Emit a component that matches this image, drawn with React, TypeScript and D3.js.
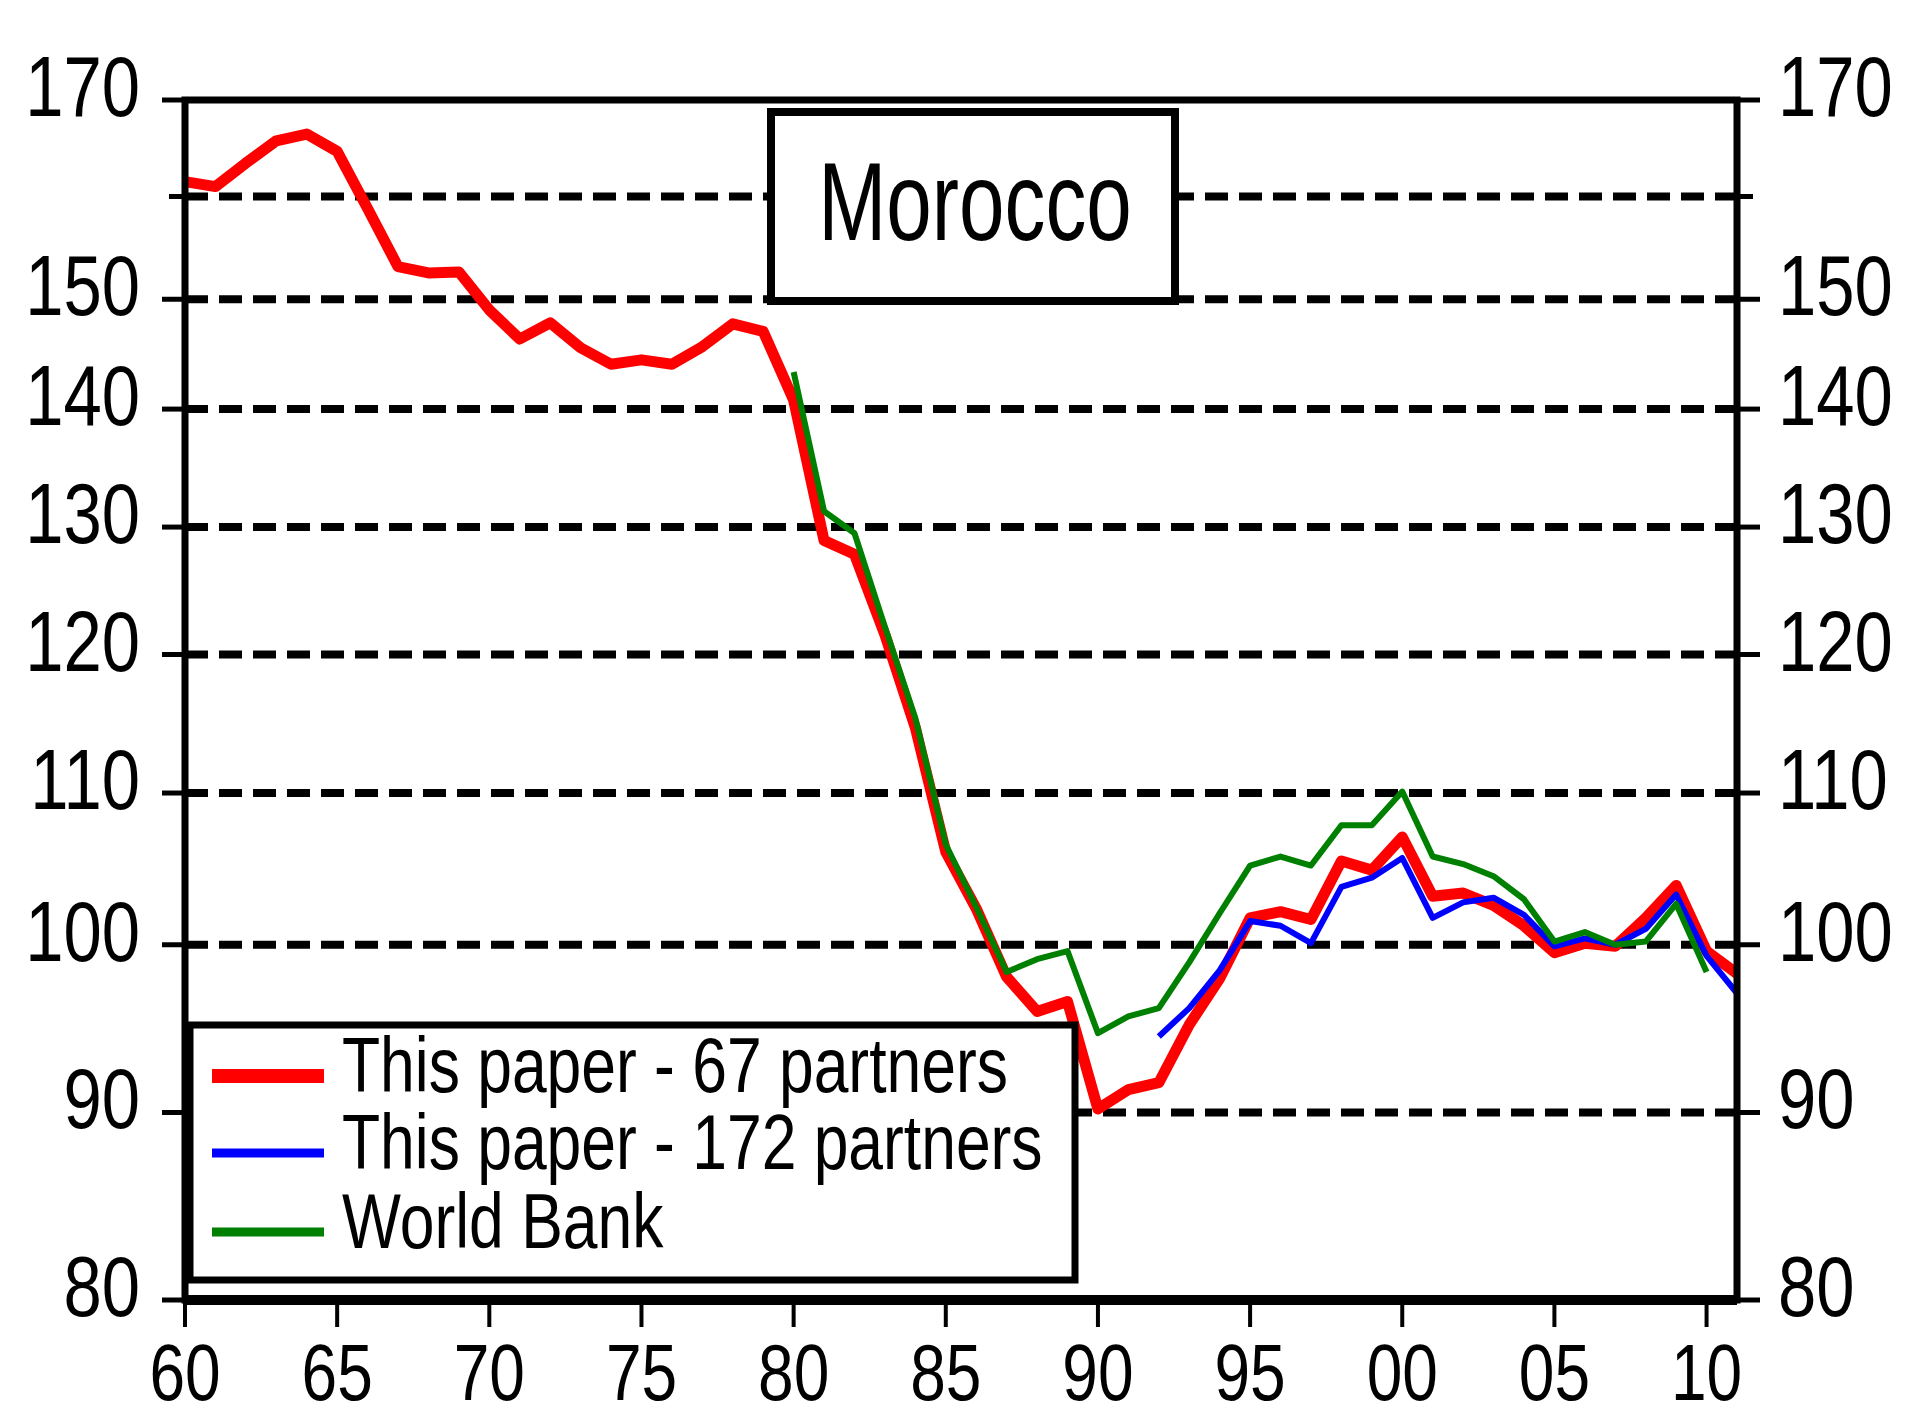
import React, { useEffect, useRef } from 'react';
import * as d3 from 'd3';

// real effective exchange rate index, Morocco (2007 = 100)
const years67 = d3.range(1960, 2012);
const partners67 = [
  161.5, 161.0, 163.4, 165.7, 166.4, 164.6, 158.8, 153.1, 152.5, 152.6,
  149.0, 146.3, 147.8, 145.5, 144.0, 144.4, 144.0, 145.6, 147.7, 147.0,
  140.8, 128.9, 127.8, 121.5, 114.6, 106.0, 102.3, 98.0, 95.9, 96.5,
  90.2, 91.3, 91.7, 95.1, 97.9, 101.7, 102.1, 101.6, 105.4, 104.8,
  107.0, 103.1, 103.3, 102.5, 101.2, 99.5, 100.1, 99.9, 101.7, 103.8,
  99.6, 98.2
];

const years172 = d3.range(1992, 2012);
const partners172 = [
  94.4, 96.1, 98.4, 101.5, 101.2, 100.1, 103.7, 104.3, 105.6, 101.7,
  102.7, 103.0, 101.9, 99.9, 100.4, 100.0, 101.0, 103.2, 99.3, 97.0
];

const yearsWB = d3.range(1980, 2011);
const worldBank = [
  143.3, 131.3, 129.5, 122.1, 115.3, 106.5, 102.4, 98.3, 99.1, 99.6,
  94.6, 95.6, 96.1, 98.9, 102.0, 105.1, 105.7, 105.1, 107.8, 107.8,
  110.1, 105.7, 105.2, 104.4, 102.9, 100.2, 100.8, 100.0, 100.2, 102.6,
  98.3
];

const yTicks = [80, 90, 100, 110, 120, 130, 140, 150, 160, 170];
const yHidden = [160];
const gridValues = [90, 100, 110, 120, 130, 140, 150, 160];
const xTicks = [1960, 1965, 1970, 1975, 1980, 1985, 1990, 1995, 2000, 2005, 2010];

const title = 'Morocco';
const seriesNames = ['This paper - 67 partners', 'This paper - 172 partners', 'World Bank'];
const seriesColors = ['#ff0000', '#0000ff', '#008000'];

// no narrow face installed, so squeeze the regular one
const FONT = '"Liberation Sans", Arial, sans-serif';
const SQUEEZE = 0.8;

export default function App() {
  const svgRef = useRef<SVGSVGElement>(null);

  useEffect(() => {
    const W = 1905, H = 1411;
    const margin = { top: 100, right: 168, bottom: 111, left: 185 };

    const svg = d3.select(svgRef.current);
    svg.selectAll('*').remove();
    svg.attr('width', W).attr('height', H);
    svg.append('rect').attr('width', W).attr('height', H).attr('fill', '#fff');

    const x = d3.scaleLinear().domain([1960, 2011]).range([margin.left, W - margin.right]);
    const y = d3.scaleLog().domain([80, 170]).range([H - margin.bottom, margin.top]);

    const at = (px: number, py: number, sx = SQUEEZE) => `translate(${px},${py}) scale(${sx},1)`;

    // dashed grid
    svg.append('g')
      .selectAll('line')
      .data(gridValues)
      .enter()
      .append('line')
      .attr('x1', x(1960)).attr('x2', x(2011))
      .attr('y1', d => y(d)).attr('y2', d => y(d))
      .attr('stroke', '#000')
      .attr('stroke-width', 8)
      .attr('stroke-dasharray', '23 11');

    // series
    const line = d3.line<[number, number]>()
      .x(d => x(d[0]))
      .y(d => y(d[1]));

    const series = [
      { years: years67, values: partners67, width: 11 },
      { years: years172, values: partners172, width: 6 },
      { years: yearsWB, values: worldBank, width: 6 }
    ];
    series.forEach((s, i) => {
      const pts = s.years.map((yr, j) => [yr, s.values[j]] as [number, number]);
      svg.append('path')
        .attr('d', line(pts))
        .attr('fill', 'none')
        .attr('stroke', seriesColors[i])
        .attr('stroke-width', s.width)
        .attr('stroke-linejoin', 'round');
    });

    // title box
    const tb = svg.append('g');
    tb.append('rect')
      .attr('x', 771).attr('y', 112).attr('width', 404).attr('height', 189)
      .attr('fill', '#fff').attr('stroke', '#000').attr('stroke-width', 8);
    tb.append('text')
      .attr('transform', at(975, 240, 0.73))
      .attr('text-anchor', 'middle')
      .attr('font-family', FONT)
      .attr('font-size', 112)
      .text(title);

    // legend
    const lg = svg.append('g');
    lg.append('rect')
      .attr('x', 190).attr('y', 1025).attr('width', 885).attr('height', 255)
      .attr('fill', '#fff').attr('stroke', '#000').attr('stroke-width', 7);
    const rowY = [1076, 1153, 1232];
    const swW = [14, 9, 9];
    seriesNames.forEach((name, i) => {
      lg.append('line')
        .attr('x1', 212).attr('x2', 324)
        .attr('y1', rowY[i]).attr('y2', rowY[i])
        .attr('stroke', seriesColors[i])
        .attr('stroke-width', swW[i]);
      lg.append('text')
        .attr('transform', at(342, rowY[i] + 16))
        .attr('font-family', FONT)
        .attr('font-size', 78)
        .text(name);
    });

    // frame
    const x0 = x(1960), x1 = x(2011), yTop = y(170), yBot = y(80);
    svg.append('rect')
      .attr('x', x0).attr('y', yTop).attr('width', x1 - x0).attr('height', yBot - yTop)
      .attr('fill', 'none').attr('stroke', '#000').attr('stroke-width', 7);
    svg.append('line')
      .attr('x1', x0).attr('x2', x1).attr('y1', yBot).attr('y2', yBot)
      .attr('stroke', '#000').attr('stroke-width', 10);

    // y axes, both sides
    const fmtY = (d: number) => (yHidden.includes(d) ? '' : String(d));
    const left = svg.append('g');
    left.selectAll('line').data(yTicks).enter().append('line')
      .attr('x1', d => x0 - (yHidden.includes(d) ? 16 : 23)).attr('x2', x0)
      .attr('y1', d => y(d)).attr('y2', d => y(d))
      .attr('stroke', '#000').attr('stroke-width', 5);
    left.selectAll('text').data(yTicks).enter().append('text')
      .attr('transform', d => at(140, y(d) + 16))
      .attr('text-anchor', 'end')
      .attr('font-family', FONT).attr('font-size', 86)
      .text(fmtY);

    const right = svg.append('g');
    right.selectAll('line').data(yTicks).enter().append('line')
      .attr('x1', x1).attr('x2', d => x1 + (yHidden.includes(d) ? 16 : 23))
      .attr('y1', d => y(d)).attr('y2', d => y(d))
      .attr('stroke', '#000').attr('stroke-width', 5);
    right.selectAll('text').data(yTicks).enter().append('text')
      .attr('transform', d => at(1778, y(d) + 16))
      .attr('font-family', FONT).attr('font-size', 86)
      .text(fmtY);

    // x axis
    const bottom = svg.append('g');
    bottom.selectAll('line').data(xTicks).enter().append('line')
      .attr('x1', d => x(d)).attr('x2', d => x(d))
      .attr('y1', yBot).attr('y2', yBot + 27)
      .attr('stroke', '#000').attr('stroke-width', 4);
    bottom.selectAll('text').data(xTicks).enter().append('text')
      .attr('transform', d => at(x(d), 1400))
      .attr('text-anchor', 'middle')
      .attr('font-family', FONT).attr('font-size', 80)
      .text(d => String(d % 100).padStart(2, '0'));
  }, []);

  return (
    <svg
      ref={svgRef}
      style={{ position: 'absolute', left: 0, top: 0, display: 'block' }}
    />
  );
}
